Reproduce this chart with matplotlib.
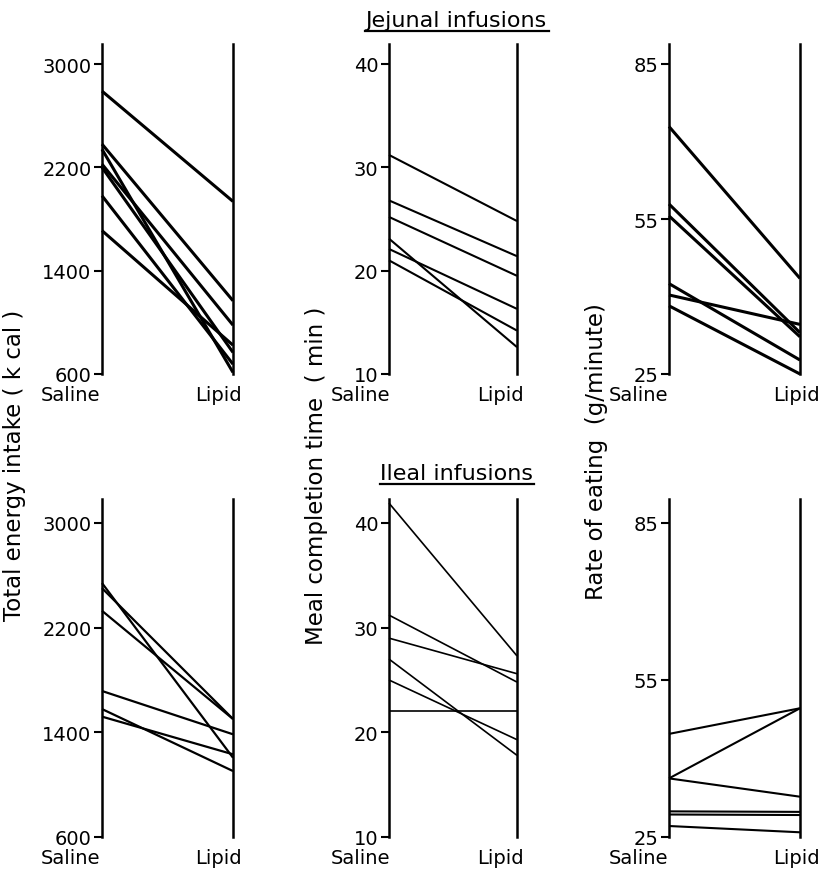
import matplotlib
matplotlib.use('Agg')
import matplotlib.pyplot as plt
import matplotlib.transforms as mtransforms
from matplotlib.lines import Line2D

plt.rcParams['font.family'] = ['DejaVu Sans']

conditions = ['Saline', 'Lipid']

# jejunal infusions (top row), paired values per subject
jej_energy_saline = [2790, 2380, 2340, 2225, 2200, 1980, 1710]
jej_energy_lipid = [1936, 1167, 612, 978, 767, 676, 823]
jej_time_saline = [31.2, 26.8, 25.2, 23.1, 22.1, 21.0]
jej_time_lipid = [24.8, 21.4, 19.5, 12.6, 16.3, 14.2]
jej_rate_saline = [72.9, 57.9, 55.6, 42.5, 40.3, 38.2]
jej_rate_lipid = [43.5, 33.0, 32.2, 27.7, 34.6, 25.0]

# ileal infusions (bottom row)
ile_energy_saline = [2541, 2502, 2329, 1716, 1578, 1520]
ile_energy_lipid = [1206, 1502, 1502, 1385, 1104, 1232]
ile_time_saline = [41.9, 31.2, 29.0, 27.0, 25.0, 22.0]
ile_time_lipid = [27.3, 24.8, 25.6, 17.8, 19.3, 22.0]
ile_rate_saline = [44.7, 36.2, 36.2, 29.9, 29.3, 27.1]
ile_rate_lipid = [49.6, 49.6, 32.7, 29.8, 29.2, 25.9]

energy_ticks = [600, 1400, 2200, 3000]
time_ticks = [10, 20, 30, 40]
rate_ticks = [25, 55, 85]

ylabels = ['Total energy intake ( k cal )', 'Meal completion time  ( min )',
           'Rate of eating  (g/minute)']

W, H = 835, 887
fig = plt.figure(figsize=(W / 100, H / 100), dpi=100)

# pixel layout: (left, right) of each column, (top, top tick, bottom) of each row
cols = [(102, 233), (389, 517), (669, 800)]
rows = [(45, 65, 375), (500, 524, 838)]
saline_shift = [-32, -29, -31]
lipid_shift = [-15, -17, -4]

panels = [
    [(jej_energy_saline, jej_energy_lipid, energy_ticks, 2.2),
     (jej_time_saline, jej_time_lipid, time_ticks, 1.5),
     (jej_rate_saline, jej_rate_lipid, rate_ticks, 2.2)],
    [(ile_energy_saline, ile_energy_lipid, energy_ticks, 1.6),
     (ile_time_saline, ile_time_lipid, time_ticks, 1.2),
     (ile_rate_saline, ile_rate_lipid, rate_ticks, 1.5)],
]

for r, (top, ttop, bot) in enumerate(rows):
    for c, (left, right) in enumerate(cols):
        saline, lipid, ticks, lw = panels[r][c]
        ax = fig.add_axes([left / W, 1 - bot / H, (right - left) / W, (bot - top) / H])
        for s, l in zip(saline, lipid):
            ax.plot([0, 1], [s, l], color='black', lw=lw, solid_capstyle='butt',
                    clip_on=False)
        ymin, ymax = ticks[0], ticks[-1]
        extra = (ttop - top) / (bot - ttop) * (ymax - ymin)
        ax.set_ylim(ymin, ymax + extra)
        ax.set_xlim(0, 1)
        ax.set_yticks(ticks)
        ax.set_xticks([0, 1], conditions)
        ax.spines['top'].set_visible(False)
        ax.spines['bottom'].set_visible(False)
        for side in ['left', 'right']:
            ax.spines[side].set_linewidth(1.8)
        ax.tick_params(axis='y', direction='out', length=6, width=1.5, pad=1.5,
                       labelsize=14)
        ax.tick_params(axis='x', length=0, pad=8, labelsize=14)
        labs = ax.get_xticklabels()
        labs[0].set_transform(labs[0].get_transform() +
                              mtransforms.ScaledTranslation(saline_shift[c] / 100, 0, fig.dpi_scale_trans))
        labs[1].set_transform(labs[1].get_transform() +
                              mtransforms.ScaledTranslation(lipid_shift[c] / 100, 0, fig.dpi_scale_trans))

# y labels spanning both rows
label_pos = [(15, 465), (316, 476), (597, 452)]
for text, (x, y) in zip(ylabels, label_pos):
    fig.text(x / W, 1 - y / H, text, rotation=90, ha='center', va='center', fontsize=16.5)

# row titles, underlined
titles = [('Jejunal infusions', 456, 21), ('Ileal infusions', 456, 474)]
title_objs = []
for text, x, y in titles:
    t = fig.text(x / W, 1 - y / H, text, ha='center', va='center', fontsize=16)
    title_objs.append(t)

fig.canvas.draw()
renderer = fig.canvas.get_renderer()
for t in title_objs:
    bb = t.get_window_extent(renderer).transformed(fig.transFigure.inverted())
    yline = bb.y0 - 1 / H
    fig.add_artist(Line2D([bb.x0, bb.x1 + 2 / W], [yline, yline], color='black', lw=1.6,
                          transform=fig.transFigure))

fig.savefig('out.png', dpi=100)
